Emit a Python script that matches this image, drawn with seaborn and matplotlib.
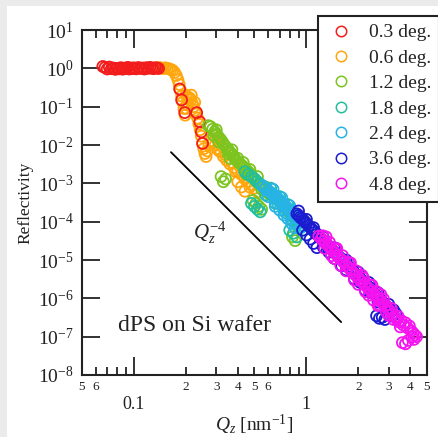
import matplotlib
matplotlib.use("Agg")
import matplotlib.pyplot as plt
import seaborn as sns
from matplotlib.patches import Rectangle
from matplotlib.lines import Line2D
from matplotlib.ticker import FixedLocator, FixedFormatter

# ---------------- data ----------------
red_q = [0.066, 0.068, 0.070, 0.072, 0.074, 0.076, 0.078, 0.080, 0.082, 0.084, 0.086, 0.088,
         0.090, 0.092, 0.094, 0.096, 0.098, 0.100, 0.103, 0.106, 0.109, 0.112, 0.115, 0.118,
         0.121, 0.124, 0.127, 0.130, 0.133, 0.136, 0.139, 0.184, 0.189, 0.197, 0.231, 0.241,
         0.246, 0.250]
red_r = [1.12, 1.05, 0.96, 1.08, 0.98, 1.02, 0.94, 1.00, 0.97, 1.04, 0.95, 1.01,
         0.99, 1.06, 0.96, 1.02, 0.98, 1.03, 0.97, 1.05, 0.99, 1.02, 0.96, 1.04,
         1.00, 1.06, 1.01, 0.98, 1.04, 1.02, 0.99, 0.29, 0.15, 0.07, 0.07, 0.04,
         0.022, 0.011]

orange_q = [0.140, 0.144, 0.148, 0.152, 0.156, 0.160, 0.164, 0.168, 0.172, 0.176, 0.180, 0.183,
            0.186, 0.189, 0.192, 0.195, 0.198, 0.201, 0.204, 0.207, 0.210, 0.214, 0.218, 0.222,
            0.226, 0.230, 0.234, 0.238, 0.242, 0.246, 0.250, 0.254, 0.258, 0.262, 0.266, 0.272,
            0.280, 0.288, 0.296, 0.304, 0.312, 0.320, 0.330, 0.345, 0.360, 0.380, 0.400, 0.420,
            0.440, 0.460, 0.480, 0.500, 0.520, 0.400, 0.420, 0.440,
            0.300, 0.320, 0.340, 0.370, 0.390, 0.410, 0.430, 0.450, 0.470, 0.200, 0.205, 0.215,
            0.225]
orange_r = [1.05, 1.02, 0.99, 1.03, 1.00, 0.97, 0.93, 0.88, 0.78, 0.65, 0.50, 0.38,
            0.27, 0.19, 0.13, 0.09, 0.06, 0.09, 0.13, 0.16, 0.17, 0.15, 0.12, 0.10,
            0.08, 0.065, 0.05, 0.035, 0.025, 0.017, 0.011, 0.008, 0.006, 0.005, 0.007, 0.010,
            0.013, 0.012, 0.010, 0.008, 0.007, 0.0065, 0.005, 0.004, 0.0032, 0.0026, 0.0021, 0.0017,
            0.0013, 0.0011, 0.0009, 0.00075, 0.0006, 0.0011, 0.0008, 0.00062,
            0.015, 0.0095, 0.0055, 0.0035, 0.0020, 0.0028, 0.0016, 0.0019, 0.0008, 0.20, 0.11, 0.20,
            0.13]

green_q = [0.270, 0.278, 0.286, 0.294, 0.302, 0.310, 0.318, 0.326, 0.334, 0.342, 0.350, 0.358,
           0.366, 0.374, 0.382, 0.390, 0.400, 0.410, 0.420, 0.430, 0.440, 0.450, 0.460, 0.470,
           0.480, 0.490, 0.500, 0.515, 0.530, 0.545, 0.560, 0.575, 0.590, 0.610, 0.320, 0.330,
           0.340, 0.490, 0.510, 0.530, 0.550, 0.830, 0.860,
           0.290, 0.310, 0.350, 0.370, 0.400, 0.430, 0.450, 0.470, 0.520, 0.550, 0.580, 0.360,
           0.300]
green_r = [0.032, 0.030, 0.026, 0.022, 0.019, 0.016, 0.014, 0.012, 0.010, 0.0088, 0.0078, 0.0068,
           0.0060, 0.0053, 0.0046, 0.0041, 0.0037, 0.0033, 0.0030, 0.0027, 0.0024, 0.0022, 0.0020, 0.0018,
           0.0016, 0.0014, 0.0013, 0.0011, 0.00098, 0.00088, 0.00078, 0.00068, 0.00060, 0.00052, 0.0015, 0.0011,
           0.0013, 0.00036, 0.00030, 0.00025, 0.00021, 0.00004, 0.000032,
           0.018, 0.012, 0.0060, 0.0075, 0.0045, 0.0035, 0.0017, 0.0023, 0.0015, 0.0007, 0.0008, 0.0045,
           0.025]

teal_q = [0.44, 0.46, 0.48, 0.50, 0.52, 0.54, 0.56, 0.58, 0.60, 0.62, 0.64, 0.66,
          0.68, 0.70, 0.72, 0.74, 0.76, 0.78, 0.80, 0.82, 0.84, 0.86, 0.88, 0.90,
          0.48, 0.50, 0.52, 0.54, 0.80, 0.84, 0.88,
          0.58, 0.62, 0.66, 0.70, 0.74, 0.78, 0.82, 0.86, 0.90]
teal_r = [0.0020, 0.0017, 0.0015, 0.0013, 0.0011, 0.00095, 0.00083, 0.00072, 0.00063, 0.00055, 0.00048, 0.00042,
          0.00037, 0.00033, 0.00029, 0.00025, 0.00022, 0.00020, 0.00017, 0.00015, 0.00013, 0.00012, 0.00010, 0.00009,
          0.00030, 0.00025, 0.00021, 0.00018, 0.00006, 0.00005, 0.00004,
          0.00050, 0.00075, 0.00030, 0.00045, 0.00020, 0.00028, 0.00011, 0.00016, 0.00007]

lblue_q = [0.56, 0.58, 0.60, 0.62, 0.64, 0.66, 0.68, 0.70, 0.72, 0.74, 0.76, 0.78,
           0.80, 0.82, 0.84, 0.86, 0.88, 0.90, 0.92, 0.95, 0.66, 0.70, 0.74, 0.78,
           0.82, 0.86,
           0.60, 0.64, 0.68, 0.72, 0.76, 0.80, 0.84, 0.90, 0.93]
lblue_r = [0.00085, 0.00075, 0.00065, 0.00058, 0.00052, 0.00046, 0.00041, 0.00036, 0.00032, 0.00028, 0.00025, 0.00022,
           0.00020, 0.00018, 0.00016, 0.00014, 0.00012, 0.00011, 0.00010, 0.00008, 0.00025, 0.00020, 0.00015, 0.00012,
           0.00009, 0.00007,
           0.00045, 0.00070, 0.00030, 0.00042, 0.00017, 0.00026, 0.00010, 0.00014, 0.00007]

blue_q = [0.88, 0.90, 0.92, 0.94, 0.96, 0.98, 1.00, 1.03, 1.06, 1.09, 1.12, 1.15,
          1.18, 1.21, 1.25, 1.29, 1.33, 1.37, 1.41, 1.45, 1.50, 1.55, 1.60, 1.65,
          1.70, 1.76, 1.82, 1.88, 1.94, 2.00, 2.08, 2.16, 2.24, 2.32, 2.40, 2.50,
          2.60, 2.70, 2.80, 2.90, 3.00, 3.10, 3.20, 3.30, 0.95, 1.00, 1.05, 1.10,
          1.15, 2.55, 2.65, 2.75, 2.85, 1.35, 1.60, 1.90, 2.20,
          0.90, 1.00, 1.10, 1.25, 1.45, 1.70, 2.00, 2.30, 2.60, 3.00,
          1.25, 1.45, 1.70, 2.05, 2.35, 2.60, 3.15]
blue_r = [1.6e-4, 1.45e-4, 1.3e-4, 1.2e-4, 1.1e-4, 1.0e-4, 9e-5, 7.8e-5, 6.8e-5, 6e-5, 5.3e-5, 4.7e-5,
          4.2e-5, 3.7e-5, 3.2e-5, 2.8e-5, 2.4e-5, 2.1e-5, 1.85e-5, 1.6e-5, 1.4e-5, 1.2e-5, 1.05e-5, 9e-6,
          7.8e-6, 6.7e-6, 5.7e-6, 4.9e-6, 4.2e-6, 3.7e-6, 3.1e-6, 2.6e-6, 2.2e-6, 1.9e-6, 1.6e-6, 1.3e-6,
          1.1e-6, 9e-7, 7.5e-7, 6.3e-7, 5.3e-7, 4.5e-7, 5e-7, 4e-7, 6e-5, 4.5e-5, 3.5e-5, 2.7e-5,
          2.1e-5, 3.5e-7, 3e-7, 3.2e-7, 2.8e-7, 1.6e-5, 7e-6, 3.2e-6, 1.6e-6,
          1.9e-4, 1.15e-4, 7e-5, 4e-5, 2.1e-5, 1e-5, 4.8e-6, 2.6e-6, 1.4e-6, 7e-7,
          2.2e-5, 1.1e-5, 5.5e-6, 2.6e-6, 1.4e-6, 8e-7, 3.5e-7]

magenta_q = [1.18, 1.22, 1.26, 1.30, 1.34, 1.38, 1.42, 1.46, 1.50, 1.55, 1.60, 1.65,
             1.70, 1.75, 1.80, 1.86, 1.92, 1.98, 2.04, 2.10, 2.17, 2.24, 2.31, 2.38,
             2.46, 2.54, 2.62, 2.70, 2.78, 2.87, 2.96, 3.05, 3.15, 3.25, 3.35, 3.45,
             3.55, 3.65, 3.75, 3.85, 3.95, 4.05, 4.15, 4.25, 4.35, 3.60, 3.75, 3.90,
             1.30, 1.50, 1.80, 2.10, 2.40, 2.70, 1.40, 1.70, 2.00, 2.30, 2.60, 3.00,
             1.24, 1.36, 1.48, 1.62, 1.76, 1.95, 2.14, 2.35, 2.55, 2.80, 3.10, 3.40,
             1.28, 1.45, 1.58, 1.90, 2.20, 2.45, 2.65, 2.90, 3.20, 3.50, 4.10, 4.20]
magenta_r = [4.2e-5, 3.6e-5, 3.1e-5, 2.7e-5, 2.35e-5, 2.05e-5, 1.8e-5, 1.55e-5, 1.35e-5, 1.15e-5, 1.0e-5, 8.6e-6,
             7.4e-6, 6.4e-6, 5.6e-6, 4.8e-6, 4.1e-6, 3.6e-6, 3.1e-6, 2.7e-6, 2.35e-6, 2.0e-6, 1.75e-6, 1.5e-6,
             1.3e-6, 1.12e-6, 9.7e-7, 8.5e-7, 7.3e-7, 6.3e-7, 5.4e-7, 4.6e-7, 3.9e-7, 3.3e-7, 2.8e-7, 2.4e-7,
             2.6e-7, 2.0e-7, 2.3e-7, 1.7e-7, 1.9e-7, 1.4e-7, 1.25e-7, 1.1e-7, 1.0e-7, 7e-8, 6.5e-8, 8e-8,
             4.0e-5, 2.0e-5, 8.4e-6, 4.0e-6, 2.2e-6, 1.25e-6, 1.3e-5, 5.2e-6, 2.3e-6, 1.2e-6, 6.5e-7, 3.6e-7,
             4.3e-5, 2.9e-5, 1.9e-5, 1.3e-5, 8.5e-6, 5.2e-6, 3.4e-6, 2.2e-6, 1.5e-6, 9.5e-7, 5.5e-7, 3.4e-7,
             2.0e-5, 1.1e-5, 7.2e-6, 3.0e-6, 1.5e-6, 9e-7, 6.8e-7, 4.5e-7, 2.8e-7, 1.8e-7, 1.0e-7, 8.5e-8]

angle_labels = ["0.3 deg.", "0.6 deg.", "1.2 deg.", "1.8 deg.", "2.4 deg.", "3.6 deg.", "4.8 deg."]
angle_colors = ["#f21c1c", "#ffa60d", "#7cc41f", "#22bf9c", "#27b3e6", "#1b1bd0", "#f514f0"]

slope_q = [0.164, 1.59]
slope_r = [6.5e-3, 2.4e-7]

major_x = [0.1, 1.0]
major_x_labels = ["0.1", "1"]
minor_x = [0.05, 0.06, 0.07, 0.08, 0.09, 0.2, 0.3, 0.4, 0.5, 0.6, 0.7, 0.8, 0.9, 2, 3, 4, 5]
minor_x_labels = ["5", "6", "", "", "", "2", "3", "4", "5", "6", "", "", "", "2", "3", "4", "5"]
y_exponents = [-8, -7, -6, -5, -4, -3, -2, -1, 0, 1]

# ---------------- style ----------------
sns.set_theme(style="white")
plt.rcParams['font.family'] = ['Liberation Serif', 'DejaVu Serif']
plt.rcParams['mathtext.fontset'] = 'custom'
plt.rcParams['mathtext.rm'] = 'Liberation Serif'
plt.rcParams['mathtext.it'] = 'Liberation Serif:italic'
plt.rcParams['mathtext.bf'] = 'Liberation Serif:bold'
plt.rcParams['axes.unicode_minus'] = True

W, H = 439, 437
fig = plt.figure(figsize=(W / 100, H / 100), dpi=100)
fig.patch.set_facecolor('white')
fig.patches.append(Rectangle((0, 0), 7 / W, 1, transform=fig.transFigure,
                             facecolor='#ebebeb', edgecolor='none', zorder=0))
fig.patches.append(Rectangle((0, 1 - 6 / H), 1, 6 / H, transform=fig.transFigure,
                             facecolor='#ebebeb', edgecolor='none', zorder=0))

ax = fig.add_axes([82 / W, 1 - 375 / H, 345 / W, 345 / H])
ax.set_facecolor('white')

series = [(orange_q, orange_r, angle_colors[1]), (red_q, red_r, angle_colors[0]),
          (green_q, green_r, angle_colors[2]), (teal_q, teal_r, angle_colors[3]),
          (lblue_q, lblue_r, angle_colors[4]), (blue_q, blue_r, angle_colors[5]),
          (magenta_q, magenta_r, angle_colors[6])]
for q, r, col in series:
    sns.scatterplot(x=q, y=r, ax=ax, marker='o', s=62, color=col, facecolor='none',
                    edgecolor=col, linewidth=1.3, legend=False, zorder=3)

sns.lineplot(x=slope_q, y=slope_r, ax=ax, color='black', linewidth=1.3, legend=False)

ax.set_xscale('log')
ax.set_yscale('log')
ax.set_xlim(0.05, 5.0)
ax.set_ylim(1e-8, 10)

ax.xaxis.set_major_locator(FixedLocator(major_x))
ax.xaxis.set_major_formatter(FixedFormatter(major_x_labels))
ax.xaxis.set_minor_locator(FixedLocator(minor_x))
ax.xaxis.set_minor_formatter(FixedFormatter(minor_x_labels))
ax.yaxis.set_major_locator(FixedLocator([10.0 ** e for e in y_exponents]))
ax.yaxis.set_major_formatter(FixedFormatter([r'$10^{%d}$' % e for e in y_exponents]))
ax.yaxis.set_minor_locator(FixedLocator([]))

ax.tick_params(axis='x', which='major', direction='in', length=13, width=1.3,
               top=True, bottom=True, labelsize=13, pad=15, colors='#222222')
ax.tick_params(axis='x', which='minor', direction='in', length=6, width=1.3,
               top=True, bottom=True, labelsize=9.5, pad=4, colors='#222222')
ax.tick_params(axis='y', which='major', direction='in', length=13, width=1.3,
               left=True, right=True, labelsize=14, pad=6, colors='#222222')

for sp in ax.spines.values():
    sp.set_color('#222222')
    sp.set_linewidth(1.5)
    sp.set_visible(True)

ax.set_xlabel(r'$Q_z$ [nm$^{-1}$]', fontsize=14, labelpad=0, color='#222222')
ax.set_ylabel('Reflectivity', fontsize=12.5, labelpad=3, color='#222222')

ax.text(0.219, 5e-5, r'$Q_z^{-4}$', fontsize=15, va='center', ha='left', color='#222222')
ax.text(0.081, 2e-7, 'dPS on Si wafer', fontsize=17, va='center', ha='left', color='#222222')

handles = [Line2D([], [], marker='o', linestyle='none', markerfacecolor='none',
                  markeredgecolor=c, markersize=7.5, markeredgewidth=1.1) for c in angle_colors]
leg = ax.legend(handles, angle_labels, loc='upper left',
                bbox_to_anchor=(318 / W, 1 - 16 / H), bbox_transform=fig.transFigure,
                frameon=True, fancybox=False, framealpha=1, edgecolor='#222222',
                fontsize=14, borderpad=0.4, borderaxespad=0, handlelength=1.6,
                handletextpad=0.6, labelspacing=0.4)
leg.get_frame().set_linewidth(1.5)
for t in leg.get_texts():
    t.set_color('#222222')

fig.savefig('out.png', dpi=100)
